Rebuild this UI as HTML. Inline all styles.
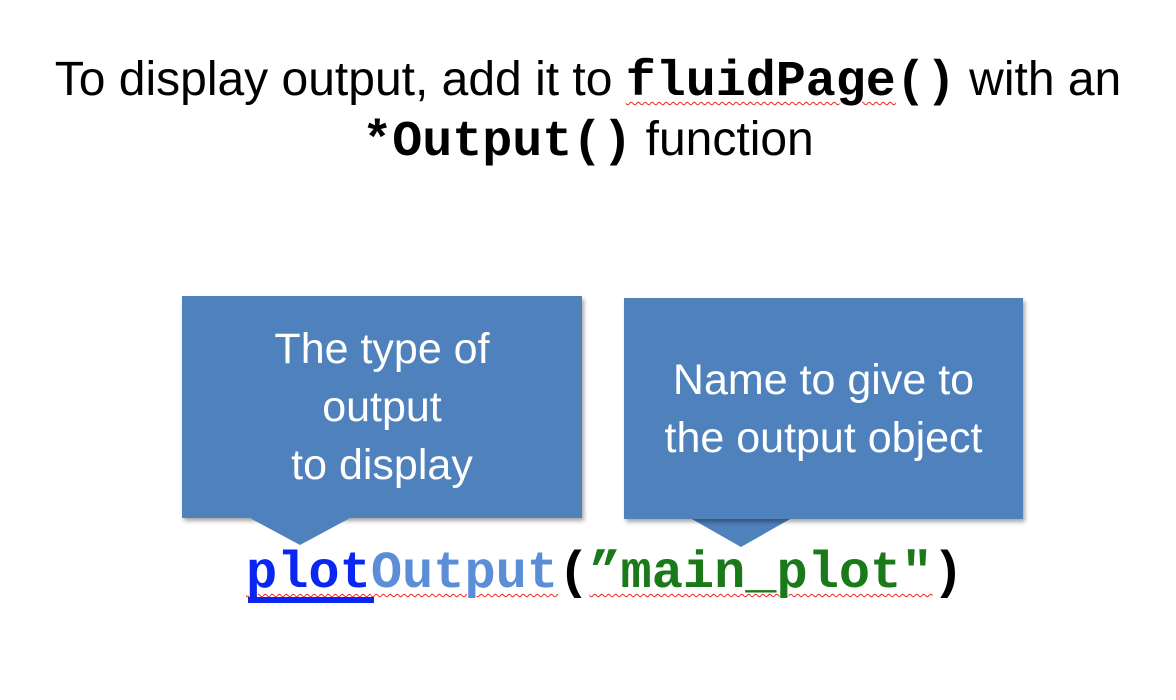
<!DOCTYPE html>
<html><head><meta charset="utf-8"><style>
body{margin:0;width:1176px;height:700px;background:#fff;position:relative;overflow:hidden;font-family:"Liberation Sans",sans-serif}
.t{position:absolute;left:0;width:1176px;text-align:center;font-size:48px;color:#000;white-space:nowrap;line-height:56px}
.m{font-family:"Liberation Mono",monospace;font-weight:bold;font-size:50px}
.w{text-decoration:underline wavy #e22;text-decoration-thickness:1px;text-underline-offset:6px}
.box{position:absolute;background:#4f81bd;box-shadow:2px 3px 4px rgba(0,0,0,.35);color:#fff;font-size:43px;text-align:center;display:flex;align-items:center;justify-content:center;line-height:58px}
.code{position:absolute;top:548px;left:246px;font-family:"Liberation Mono",monospace;font-weight:bold;font-size:52px;white-space:nowrap;line-height:52px}
</style></head><body>
<div class="t" style="top:52px">To display output, add it to <span class="m w">fluidPage</span><span class="m">()</span> with an</div>
<div class="t" style="top:112px"><span class="m">*Output()</span> function</div>
<div class="box" style="left:182px;top:296px;width:400px;height:222px"><div>The type of<br>output<br>to display</div></div>
<svg style="position:absolute;left:0;top:0" width="1176" height="700"><polygon points="248,517 352,517 300,545" fill="#4f81bd"/><polygon points="690,518 792,518 741,547" fill="#4f81bd"/></svg>
<div class="box" style="left:624px;top:298px;width:399px;height:221px"><div>Name to give to<br>the output object</div></div>
<div class="code"><span class="w" style="color:#0a26f0">plot</span><span class="w" style="color:#5b8ed6">Output</span><span style="color:#000">(</span><span class="w" style="color:#1a7a1a">”main_plot"</span><span style="color:#000">)</span></div>
<div style="position:absolute;left:248px;top:597px;width:126px;height:6px;background:#0a26f0"></div>
</body></html>
